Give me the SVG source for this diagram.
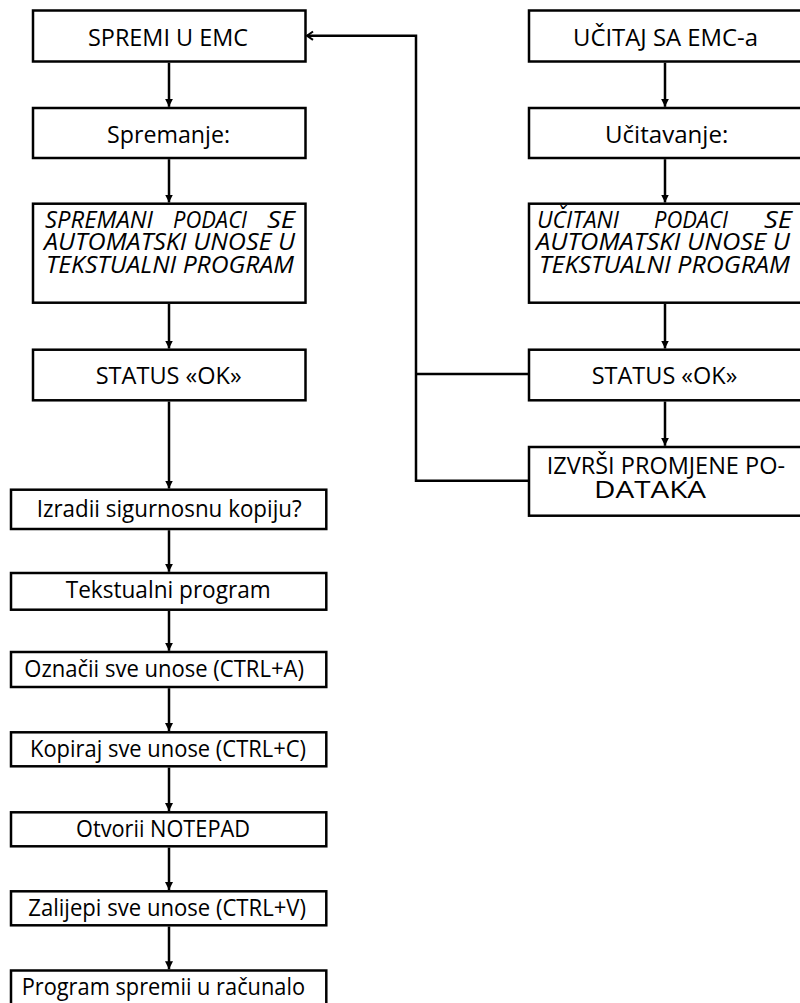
<svg xmlns="http://www.w3.org/2000/svg" width="800" height="1003" viewBox="0 0 800 1003">
  <style>
    .box { fill: #ffffff; stroke: #000000; stroke-width: 2.5; }
    .lbl { font-family: "Open Sans", "Liberation Sans", sans-serif; font-size: 23.5px; fill: #000000; }
    .it { font-style: italic; font-size: 24px; }
    .wire { fill: none; stroke: #000000; stroke-width: 2.5; }
    .flow { marker-end: url(#tri); }
  </style>
  <defs>
    <marker id="tri" markerUnits="userSpaceOnUse" markerWidth="9" markerHeight="9" refX="8" refY="4" orient="auto">
      <path d="M0,0 L8,4 L0,8 z" fill="#000000"/>
    </marker>
    <marker id="chev" markerUnits="userSpaceOnUse" markerWidth="10" markerHeight="11" refX="7" refY="5" orient="auto">
      <path d="M1,0.8 L7,5 L1,9.2" fill="none" stroke="#000000" stroke-width="2"/>
    </marker>
  </defs>
  <rect width="800" height="1003" fill="#ffffff"/>

  <!-- connectors -->
  <g id="connectors">
    <path class="wire flow" d="M169,62.7 V106.8"/>
    <path class="wire flow" d="M169,159.2 V202.5"/>
    <path class="wire flow" d="M169,304 V348.5"/>
    <path class="wire flow" d="M169,401.5 V488.5"/>
    <path class="wire flow" d="M169,530.2 V571.8"/>
    <path class="wire flow" d="M169,611 V650.8"/>
    <path class="wire flow" d="M169,688.2 V731"/>
    <path class="wire flow" d="M169,767.5 V811"/>
    <path class="wire flow" d="M169,847.5 V890"/>
    <path class="wire flow" d="M169,926.5 V969.3"/>
    <path class="wire flow" d="M665,62.7 V106.8"/>
    <path class="wire flow" d="M665,159.2 V202.5"/>
    <path class="wire flow" d="M665,304 V348.5"/>
    <path class="wire flow" d="M665,401.5 V445.8"/>
    <path class="wire" d="M529,374 H416"/>
    <path class="wire" d="M529,480.7 H416 V35.7 H307" marker-end="url(#chev)"/>
  </g>

  <!-- left column -->
  <g id="spremi-emc">
    <rect class="box" x="33" y="10.5" width="272.5" height="51"/>
    <text class="lbl" x="88" y="46" textLength="160" lengthAdjust="spacingAndGlyphs">SPREMI U EMC</text>
  </g>
  <g id="spremanje">
    <rect class="box" x="33" y="108" width="272.5" height="50"/>
    <text class="lbl" x="107" y="143" textLength="123" lengthAdjust="spacingAndGlyphs">Spremanje:</text>
  </g>
  <g id="spremani-podaci">
    <rect class="box" x="33" y="203.7" width="272.5" height="99"/>
    <text class="lbl it" x="45" y="227.5" textLength="108" lengthAdjust="spacingAndGlyphs">SPREMANI</text>
    <text class="lbl it" x="173" y="227.5" textLength="74" lengthAdjust="spacingAndGlyphs">PODACI</text>
    <text class="lbl it" x="267" y="227.5" textLength="28" lengthAdjust="spacingAndGlyphs">SE</text>
    <text class="lbl it" x="44" y="250" textLength="251" lengthAdjust="spacingAndGlyphs">AUTOMATSKI UNOSE U</text>
    <text class="lbl it" x="46" y="272.5" textLength="248" lengthAdjust="spacingAndGlyphs">TEKSTUALNI PROGRAM</text>
  </g>
  <g id="status-left">
    <rect class="box" x="33" y="349.7" width="272.5" height="50.6"/>
    <text class="lbl" x="95.7" y="384" textLength="146" lengthAdjust="spacingAndGlyphs">STATUS «OK»</text>
  </g>
  <g id="sigurnosna-kopija">
    <rect class="box" x="11" y="489.7" width="315.3" height="39.3"/>
    <text class="lbl" x="36.7" y="517" textLength="265" lengthAdjust="spacingAndGlyphs">Izradii sigurnosnu kopiju?</text>
  </g>
  <g id="tekstualni-program">
    <rect class="box" x="11" y="573" width="315.3" height="36.7"/>
    <text class="lbl" x="65.7" y="597.5" textLength="205" lengthAdjust="spacingAndGlyphs">Tekstualni program</text>
  </g>
  <g id="oznaci">
    <rect class="box" x="11" y="652" width="315.3" height="35"/>
    <text class="lbl" x="24.3" y="677.3" textLength="279.7" lengthAdjust="spacingAndGlyphs">Označii sve unose (CTRL+A)</text>
  </g>
  <g id="kopiraj">
    <rect class="box" x="11" y="732.3" width="315.3" height="34"/>
    <text class="lbl" x="30" y="757" textLength="276" lengthAdjust="spacingAndGlyphs">Kopiraj sve unose (CTRL+C)</text>
  </g>
  <g id="notepad">
    <rect class="box" x="11" y="812.3" width="315.3" height="34"/>
    <text class="lbl" x="76" y="836.7" textLength="174" lengthAdjust="spacingAndGlyphs">Otvorii NOTEPAD</text>
  </g>
  <g id="zalijepi">
    <rect class="box" x="11" y="891.3" width="315.3" height="34"/>
    <text class="lbl" x="28.3" y="916" textLength="277.7" lengthAdjust="spacingAndGlyphs">Zalijepi sve unose (CTRL+V)</text>
  </g>
  <g id="spremi-racunalo">
    <rect class="box" x="11" y="970.5" width="315.3" height="36"/>
    <text class="lbl" x="21.7" y="995" textLength="283.3" lengthAdjust="spacingAndGlyphs">Program spremii u računalo</text>
  </g>

  <!-- right column -->
  <g id="ucitaj-emc">
    <rect class="box" x="529" y="10.5" width="276" height="51"/>
    <text class="lbl" x="573" y="46" textLength="185" lengthAdjust="spacingAndGlyphs">UČITAJ SA EMC-a</text>
  </g>
  <g id="ucitavanje">
    <rect class="box" x="529" y="108" width="276" height="50"/>
    <text class="lbl" x="605" y="143" textLength="123.3" lengthAdjust="spacingAndGlyphs">Učitavanje:</text>
  </g>
  <g id="ucitani-podaci">
    <rect class="box" x="529" y="203.7" width="276" height="99"/>
    <text class="lbl it" x="537" y="227.5" textLength="82" lengthAdjust="spacingAndGlyphs">UČITANI</text>
    <text class="lbl it" x="654" y="227.5" textLength="74" lengthAdjust="spacingAndGlyphs">PODACI</text>
    <text class="lbl it" x="764" y="227.5" textLength="28" lengthAdjust="spacingAndGlyphs">SE</text>
    <text class="lbl it" x="536" y="250" textLength="254" lengthAdjust="spacingAndGlyphs">AUTOMATSKI UNOSE U</text>
    <text class="lbl it" x="539" y="272.5" textLength="251" lengthAdjust="spacingAndGlyphs">TEKSTUALNI PROGRAM</text>
  </g>
  <g id="status-right">
    <rect class="box" x="529" y="349.7" width="276" height="50.6"/>
    <text class="lbl" x="591.7" y="384" textLength="145.6" lengthAdjust="spacingAndGlyphs">STATUS «OK»</text>
  </g>
  <g id="izvrsi-promjene">
    <rect class="box" x="529" y="447" width="276" height="68.7"/>
    <text class="lbl" x="546.7" y="474" textLength="238.3" lengthAdjust="spacingAndGlyphs">IZVRŠI PROMJENE PO-</text>
    <text class="lbl" x="594" y="497.5" textLength="112" lengthAdjust="spacingAndGlyphs">DATAKA</text>
  </g>
</svg>
